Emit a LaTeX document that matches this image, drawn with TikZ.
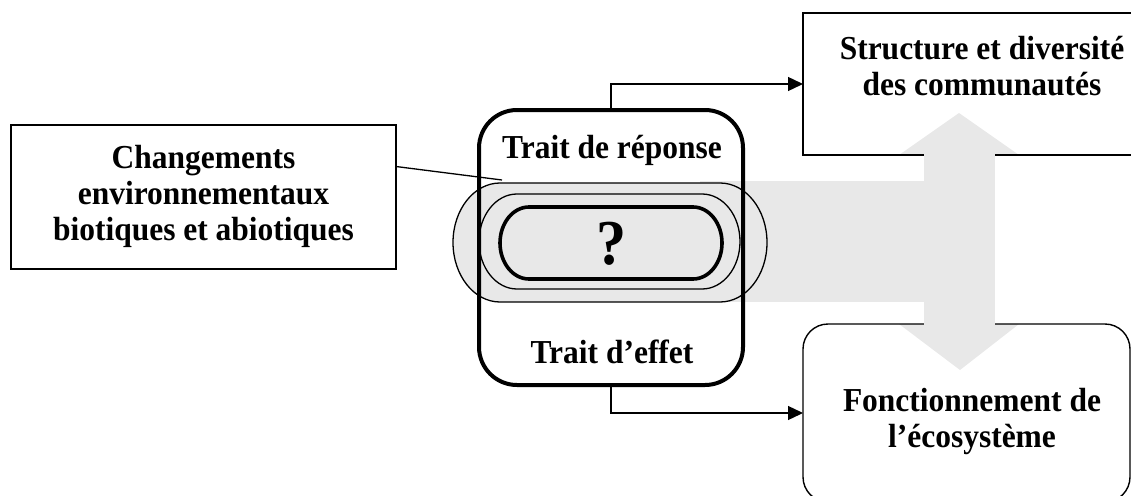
\documentclass[tikz,border=0pt]{standalone}
\usepackage{fontspec}
\setmainfont[FakeStretch=0.94]{Liberation Serif}
\usetikzlibrary{arrows.meta}
\definecolor{bandgray}{RGB}{232,232,232}
\begin{document}
\begin{tikzpicture}[x=1pt,y=-1pt,
  lbl/.style={font=\fontsize{33.5}{36}\selectfont\bfseries, align=center, inner sep=0pt},
  thinbox/.style={draw=black, line width=1.4pt, inner sep=0pt, outer sep=0pt},
  thickline/.style={draw=black, line width=4pt},
  ovalline/.style={draw=black, line width=1.3pt, fill=bandgray},
  conn/.style={draw=black, line width=1.3pt, -{Triangle[length=15pt,width=14pt]}},
  grayshape/.style={fill=bandgray, draw=none}]
\useasboundingbox (0,0) rectangle (1131,495);

% gray band and block-arrow heads
\fill[grayshape] (700,181) rectangle (924,302);
\fill[grayshape] (899,155) -- (959,113) -- (1019,155) -- cycle;
\fill[grayshape] (899,324) -- (1019,324) -- (960,370) -- cycle;

% nested ovals
\path[ovalline] (500,183) -- (720,183)
  arc[start angle=270, end angle=450, x radius=47, y radius=59.5]
  -- (500,302)
  arc[start angle=90, end angle=270, x radius=47, y radius=59.5] -- cycle;
\path[ovalline] (517,194) -- (702,194)
  arc[start angle=270, end angle=450, x radius=38, y radius=47.5]
  -- (517,289)
  arc[start angle=90, end angle=270, x radius=38, y radius=47.5] -- cycle;
\path[ovalline, line width=3.6pt] (529,207) -- (693,207)
  arc[start angle=270, end angle=450, x radius=29, y radius=36]
  -- (529,279)
  arc[start angle=90, end angle=270, x radius=29, y radius=36] -- cycle;
\node[lbl, font=\fontsize{64}{64}\selectfont\bfseries, anchor=base] (q) at (612,264) {?};

% trait box
\node[thickline, rounded corners=38pt, minimum width=264pt, minimum height=275pt,
      inner sep=0pt, outer sep=0pt, anchor=north west] (trait) at (479,110) {};
\node[lbl, anchor=base] (rep) at (612,158) {Trait de réponse};
\node[lbl, anchor=base] (eff) at (612,363) {Trait d’effet};

% left box
\node[thinbox, minimum width=385pt, minimum height=144pt, anchor=north west] (env) at (11,125) {};
\node[lbl] (envtxt) at (203.5,196) {Changements\\environnementaux\\biotiques et abiotiques};

% top right box
\node[thinbox, minimum width=357pt, minimum height=142pt, anchor=north west] (sd) at (803,13) {};
\node[lbl] (sdtxt) at (982,66) {Structure et diversité\\des communautés};

% bottom right box
\node[thinbox, rounded corners=25pt, minimum width=327pt, minimum height=178pt, anchor=north west] (fe) at (803,324) {};
\node[lbl] (fetxt) at (972,421) {Fonctionnement de\\l’écosystème};

% shaft of the double block arrow
\fill[grayshape] (924,153) rectangle (995,326);

% connectors
\coordinate (lineend) at (502,180);
\draw[line width=1.3pt] (env.9.4) -- (lineend);
\draw[conn] (trait.north) |- (sd.west);
\draw[conn] (trait.south) |- (fe.west);
\end{tikzpicture}
\end{document}
